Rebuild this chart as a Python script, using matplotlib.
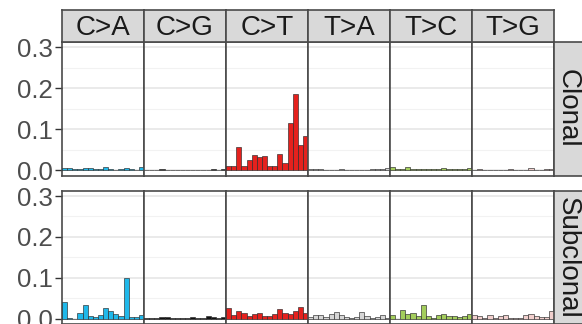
import matplotlib
matplotlib.use("Agg")
import matplotlib.pyplot as plt
import numpy as np

plt.rcParams['font.family'] = ['Liberation Sans', 'DejaVu Sans']

# substitution classes (facet columns) and sample groups (facet rows)
mut_types = ['C>A', 'C>G', 'C>T', 'T>A', 'T>C', 'T>G']
row_labels = ['Clonal', 'Subclonal']
type_colors = ['#1fb8ea', '#111111', '#e5211d', '#d6d6d6', '#a3cd5c', '#f1cfcd']

# 16 trinucleotide contexts per class, relative contribution
clonal_ca = [0.006, 0.006, 0.002, 0.004, 0.005, 0.005, 0.002, 0.003,
             0.007, 0.003, 0.001, 0.004, 0.005, 0.004, 0.001, 0.008]
clonal_cg = [0.001, 0.001, 0.001, 0.002, 0.001, 0.001, 0.001, 0.001,
             0.001, 0.001, 0.001, 0.001, 0.001, 0.002, 0.001, 0.004]
clonal_ct = [0.009, 0.009, 0.057, 0.011, 0.024, 0.036, 0.032, 0.034,
             0.009, 0.009, 0.039, 0.017, 0.116, 0.185, 0.062, 0.083]
clonal_ta = [0.002, 0.002, 0.004, 0.001, 0.001, 0.001, 0.003, 0.001,
             0.001, 0.001, 0.001, 0.001, 0.002, 0.003, 0.002, 0.005]
clonal_tc = [0.008, 0.003, 0.003, 0.007, 0.004, 0.003, 0.003, 0.003,
             0.002, 0.002, 0.005, 0.004, 0.003, 0.002, 0.002, 0.005]
clonal_tg = [0.001, 0.004, 0.001, 0.001, 0.001, 0.001, 0.001, 0.003,
             0.001, 0.001, 0.001, 0.006, 0.001, 0.001, 0.003, 0.004]

subclonal_ca = [0.042, 0.002, 0.000, 0.015, 0.034, 0.007, 0.005, 0.009,
                0.027, 0.019, 0.011, 0.007, 0.100, 0.005, 0.005, 0.009]
subclonal_cg = [0.003, 0.001, 0.001, 0.005, 0.005, 0.001, 0.003, 0.001,
                0.001, 0.004, 0.001, 0.001, 0.006, 0.004, 0.001, 0.005]
subclonal_ct = [0.026, 0.010, 0.020, 0.014, 0.006, 0.011, 0.015, 0.008,
                0.008, 0.012, 0.023, 0.015, 0.013, 0.019, 0.030, 0.014]
subclonal_ta = [0.005, 0.009, 0.009, 0.005, 0.012, 0.016, 0.009, 0.004,
                0.002, 0.005, 0.016, 0.008, 0.002, 0.005, 0.009, 0.002]
subclonal_tc = [0.010, 0.000, 0.022, 0.011, 0.015, 0.006, 0.035, 0.006,
                0.003, 0.010, 0.012, 0.008, 0.006, 0.005, 0.007, 0.013]
subclonal_tg = [0.010, 0.008, 0.003, 0.010, 0.003, 0.006, 0.010, 0.001,
                0.002, 0.003, 0.010, 0.012, 0.006, 0.004, 0.005, 0.019]

rows = [
    [clonal_ca, clonal_cg, clonal_ct, clonal_ta, clonal_tc, clonal_tg],
    [subclonal_ca, subclonal_cg, subclonal_ct, subclonal_ta, subclonal_tc, subclonal_tg],
]

W, H = 582, 324
fig = plt.figure(figsize=(W / 100, H / 100), dpi=100)

def box(x, y, w, h):
    # pixel box (top-left origin) -> figure fraction
    return [x / W, 1 - (y + h) / H, w / W, h / H]

left = 62
pw = 82
ph = 133.5
row_tops = [42, 190.7]
border = '#4a4a4a'

for r, row in enumerate(rows):
    for c, vals in enumerate(row):
        ax = fig.add_axes(box(left + c * pw, row_tops[r], pw, ph))
        x = np.arange(len(vals))
        ax.bar(x, vals, width=1.0, color=type_colors[c],
               edgecolor='#2a2a2a', linewidth=0.45, zorder=3)
        ax.set_xlim(-0.5, 15.5)
        ax.set_ylim(-0.013, 0.313)
        ax.set_yticks([0.0, 0.1, 0.2, 0.3])
        ax.set_yticks([0.05, 0.15, 0.25], minor=True)
        ax.grid(True, which='major', axis='y', color='#e8e8e8', linewidth=1.3, zorder=0)
        ax.grid(True, which='minor', axis='y', color='#f2f2f2', linewidth=0.8, zorder=0)
        ax.set_xticks([])
        for s in ax.spines.values():
            s.set_color(border)
            s.set_linewidth(1.2)
        if c == 0:
            ax.set_yticklabels(['0.0', '0.1', '0.2', '0.3'], fontsize=18.5, color='#4d4d4d')
            ax.tick_params(axis='y', which='major', length=5, width=1, color='#333333', pad=1.5)
            ax.tick_params(axis='y', which='minor', length=0)
        else:
            ax.tick_params(axis='y', which='both', length=0, labelleft=False)

        # column strips on top row
        if r == 0:
            sax = fig.add_axes(box(left + c * pw, 10, pw, 32))
            sax.set_facecolor('#d9d9d9')
            sax.set_xticks([])
            sax.set_yticks([])
            for s in sax.spines.values():
                s.set_color(border)
                s.set_linewidth(1.2)
            sax.text(0.5, 0.45, mut_types[c], transform=sax.transAxes,
                     ha='center', va='center', fontsize=20, color='#1a1a1a')

    # row strip at the right
    rax = fig.add_axes(box(left + 6 * pw, row_tops[r], 34, ph))
    rax.set_facecolor('#d9d9d9')
    rax.set_xticks([])
    rax.set_yticks([])
    for s in rax.spines.values():
        s.set_color(border)
        s.set_linewidth(1.2)
    rax.text(0.41, 0.5, row_labels[r], transform=rax.transAxes, rotation=270,
             ha='center', va='center', fontsize=20, color='#1a1a1a')

fig.savefig('out.png', dpi=100)
